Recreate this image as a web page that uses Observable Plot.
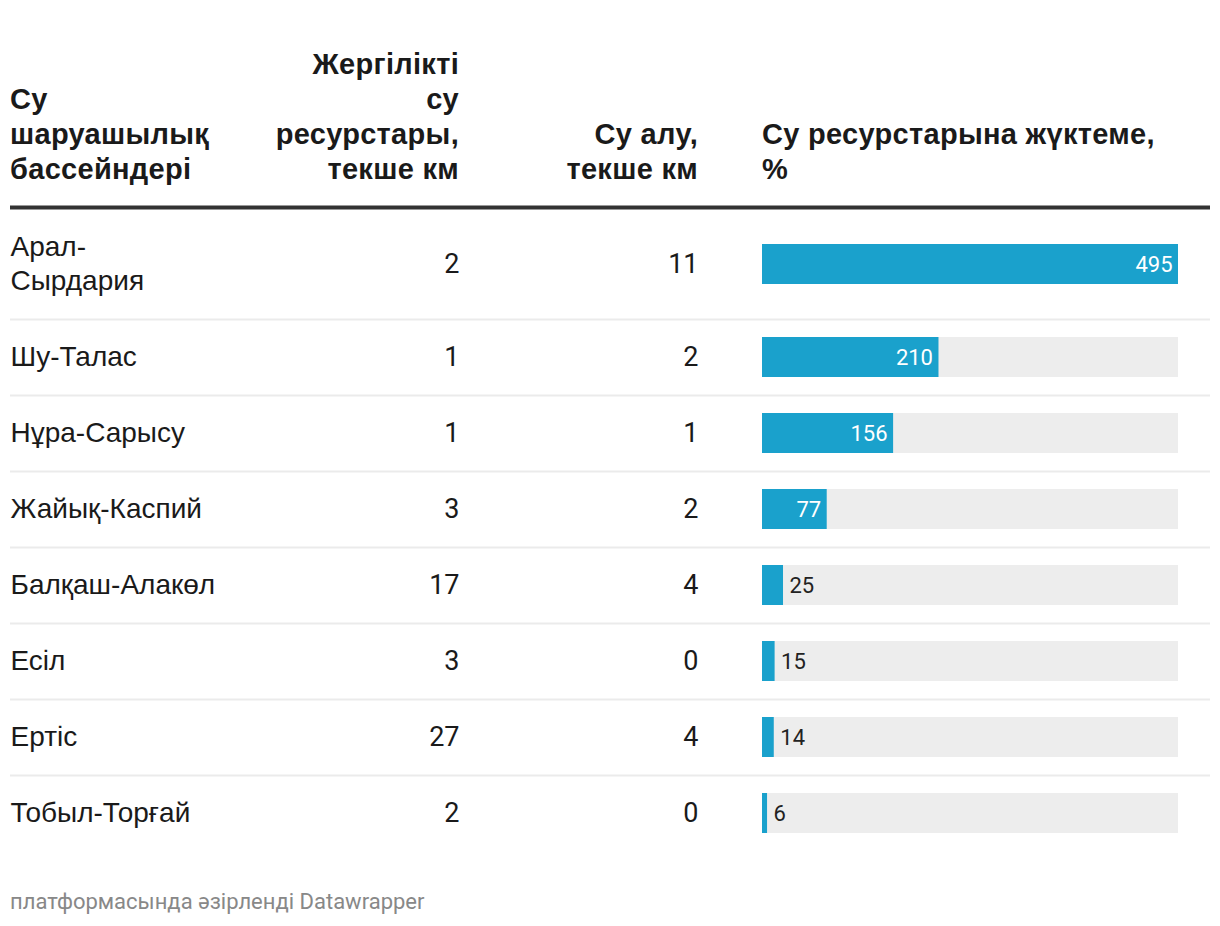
<!DOCTYPE html>
<html>
<head>
<meta charset="utf-8">
<script src="https://cdn.jsdelivr.net/npm/d3@7"></script>
<script src="https://cdn.jsdelivr.net/npm/@observablehq/plot@0.6"></script>
<style>
  html, body { margin: 0; padding: 0; background: #fff; }
  #wrap { position: relative; width: 1220px; height: 926px; overflow: hidden; }
  .hdr { position: absolute; bottom: calc(926px - 187px); font-family: "Liberation Sans", Arial, sans-serif; font-weight: bold; font-size: 29px; line-height: 35px; letter-spacing: 0.3px; color: #1a1a1a; }
  #chart { position: absolute; left: 0; top: 203px; }
  #foot { position: absolute; left: 10px; top: 889px; font-family: Roboto, sans-serif; font-size: 22px; color: #888; }
</style>
</head>
<body>
<div id="wrap">
  <div id="headers"></div>
  <div id="chart"></div>
  <div id="foot"></div>
</div>
<script>
// ---- data ----
const basins = ["Арал-Сырдария", "Шу-Талас", "Нұра-Сарысу", "Жайық-Каспий", "Балқаш-Алакөл", "Есіл", "Ертіс", "Тобыл-Торғай"];
const basinLabels = ["Арал-\nСырдария", "Шу-Талас", "Нұра-Сарысу", "Жайық-Каспий", "Балқаш-Алакөл", "Есіл", "Ертіс", "Тобыл-Торғай"];
const localResources = [2, 1, 1, 3, 17, 3, 27, 2];
const withdrawal = [11, 2, 1, 2, 4, 0, 4, 0];
const loadPct = [495, 210, 156, 77, 25, 15, 14, 6];
const headerLabels = [
  "Су\nшаруашылық\nбассейндері",
  "Жергілікті\nсу\nресурстары,\nтекше км",
  "Су алу,\nтекше км",
  "Су ресурстарына жүктеме,\n%"
];
const credit = "платформасында әзірленді Datawrapper";

// ---- headers (HTML above the SVG) ----
const hdr = document.getElementById("headers");
const hdrPos = [
  {left: "10px", align: "left"},
  {right: (1220 - 459) + "px", align: "right"},
  {right: (1220 - 698) + "px", align: "right"},
  {left: "762px", align: "left"}
];
headerLabels.forEach((t, i) => {
  const d = document.createElement("div");
  d.className = "hdr";
  Object.assign(d.style, hdrPos[i].left ? {left: hdrPos[i].left} : {right: hdrPos[i].right});
  d.style.textAlign = hdrPos[i].align;
  d.style.whiteSpace = "pre";
  d.textContent = t;
  hdr.appendChild(d);
});
document.getElementById("foot").textContent = credit;

// ---- table rows with computed layout ----
const baseRow = 76, extraLine = 34, topOffset = 6;
let acc = topOffset;
const rows = basins.map((b, i) => {
  const lines = basinLabels[i].split("\n").length;
  const h = baseRow + (lines - 1) * extraLine;
  const r = {basin: b, label: basinLabels[i], local: localResources[i], withdrawal: withdrawal[i], load: loadPct[i], top: acc, bottom: acc + h, mid: acc + h / 2};
  acc += h;
  return r;
});
const H = acc + 12;
const maxLoad = d3.max(loadPct);
const barHalf = 20;
const inside = d => d.load > 50;

const fontRow = "Liberation Sans, Arial, sans-serif";
const fontNum = "Roboto, sans-serif";
const chart = Plot.plot({
  width: 1220,
  height: H,
  marginLeft: 10,
  marginRight: 10,
  marginTop: 0,
  marginBottom: 0,
  x: {domain: [0, maxLoad], range: [762, 1178], axis: null},
  y: {domain: [0, H], range: [0, H], axis: null},
  style: {background: "#fff", overflow: "visible"},
  marks: [
    // header bottom rule
    Plot.ruleY([4], {stroke: "#333", strokeWidth: 4}),
    // row separators
    Plot.ruleY(rows.slice(0, -1), {y: "bottom", stroke: "#ebebeb", strokeWidth: 2}),
    // background bars
    Plot.rect(rows, {x1: 0, x2: maxLoad, y1: d => d.mid - barHalf, y2: d => d.mid + barHalf, fill: "#ededed"}),
    // value bars
    Plot.rect(rows, {x1: 0, x2: "load", y1: d => d.mid - barHalf, y2: d => d.mid + barHalf, fill: "#1aa1cc"}),
    // bar labels
    Plot.text(rows.filter(inside), {x: "load", y: "mid", text: d => String(d.load), textAnchor: "end", dx: -6, fill: "#fff", fontSize: 22, fontFamily: fontNum}),
    Plot.text(rows.filter(d => !inside(d)), {x: "load", y: "mid", text: d => String(d.load), textAnchor: "start", dx: 6, fill: "#222", fontSize: 22, fontFamily: fontNum}),
    // basin names
    Plot.text(rows, {frameAnchor: "left", y: "mid", dy: -2, text: "label", textAnchor: "start", lineHeight: 1.21, fill: "#1a1a1a", fontSize: 28, fontFamily: fontRow}),
    // local resources
    Plot.text(rows, {frameAnchor: "left", y: "mid", dx: 449, text: d => String(d.local), textAnchor: "end", fill: "#1a1a1a", fontSize: 27, fontFamily: fontNum}),
    // withdrawal
    Plot.text(rows, {frameAnchor: "left", y: "mid", dx: 688, text: d => String(d.withdrawal), textAnchor: "end", fill: "#1a1a1a", fontSize: 27, fontFamily: fontNum})
  ]
});
document.getElementById("chart").appendChild(chart);
</script>
</body>
</html>
